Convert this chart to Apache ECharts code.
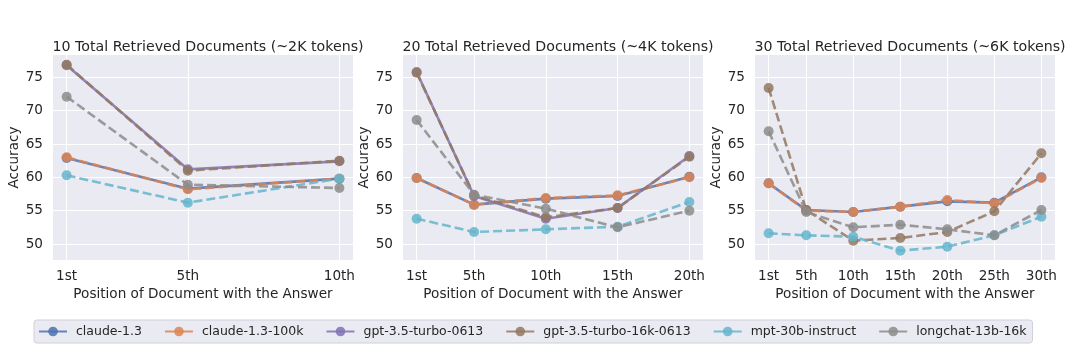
<!DOCTYPE html>
<html>
<head>
<meta charset="utf-8">
<script src="https://cdn.jsdelivr.net/npm/echarts@6/dist/echarts.min.js"></script>
<style>html,body{margin:0;padding:0;background:#fff}#c{width:1080px;height:360px}</style>
</head>
<body>
<div id="c"></div>
<script>
// ---- data ----
const modelNames = ['claude-1.3', 'claude-1.3-100k', 'gpt-3.5-turbo-0613', 'gpt-3.5-turbo-16k-0613', 'mpt-30b-instruct', 'longchat-13b-16k'];
const panelTitles = ['10 Total Retrieved Documents (~2K tokens)', '20 Total Retrieved Documents (~4K tokens)', '30 Total Retrieved Documents (~6K tokens)'];

const pos10 = [1, 5, 10];
const tickLabels10 = ['1st', '5th', '10th'];
const pos20 = [1, 5, 10, 15, 20];
const tickLabels20 = ['1st', '5th', '10th', '15th', '20th'];
const pos30 = [1, 5, 10, 15, 20, 25, 30];
const tickLabels30 = ['1st', '5th', '10th', '15th', '20th', '25th', '30th'];
const yTicks = [50, 55, 60, 65, 70, 75];

// 10 documents
const claude13_10 = [62.9, 58.3, 59.8];
const claude100k_10 = [63.0, 58.2, 59.8];
const gpt_10 = [76.8, 61.2, 62.4];
const gpt16k_10 = [76.9, 61.0, 62.5];
const mpt_10 = [60.3, 56.2, 59.8];
const longchat_10 = [72.1, 58.9, 58.4];

// 20 documents
const claude13_20 = [59.9, 55.9, 56.8, 57.2, 60.1];
const claude100k_20 = [59.9, 55.9, 56.9, 57.3, 60.0];
const gpt_20 = [75.8, 57.2, 53.8, 55.4, 63.2];
const gpt16k_20 = [75.7, 57.3, 54.0, 55.4, 63.1];
const mpt_20 = [53.8, 51.8, 52.2, 52.6, 56.3];
const longchat_20 = [68.6, 57.4, 55.3, 52.5, 55.0];

// 30 documents (no gpt-3.5-turbo-0613)
const claude13_30 = [59.1, 55.1, 54.8, 55.6, 56.4, 56.2, 60.0];
const claude100k_30 = [59.1, 55.0, 54.8, 55.6, 56.6, 56.1, 59.9];
const gpt16k_30 = [73.4, 55.1, 50.5, 50.9, 51.8, 54.9, 63.6];
const mpt_30 = [51.6, 51.3, 51.1, 49.0, 49.6, 51.3, 54.1];
const longchat_30 = [66.9, 54.8, 52.5, 52.9, 52.2, 51.3, 55.1];

// ---- styling ----
const colors = {
  'claude-1.3': '#4C72B0',
  'claude-1.3-100k': '#DD8452',
  'gpt-3.5-turbo-0613': '#8172B3',
  'gpt-3.5-turbo-16k-0613': '#937860',
  'mpt-30b-instruct': '#64B5CD',
  'longchat-13b-16k': '#8C8C8C'
};
const dashed = {
  'claude-1.3': false,
  'claude-1.3-100k': true,
  'gpt-3.5-turbo-0613': false,
  'gpt-3.5-turbo-16k-0613': true,
  'mpt-30b-instruct': true,
  'longchat-13b-16k': true
};

const panels = [
  {pos: pos10, labels: tickLabels10, series: [claude13_10, claude100k_10, gpt_10, gpt16k_10, mpt_10, longchat_10]},
  {pos: pos20, labels: tickLabels20, series: [claude13_20, claude100k_20, gpt_20, gpt16k_20, mpt_20, longchat_20]},
  {pos: pos30, labels: tickLabels30, series: [claude13_30, claude100k_30, null, gpt16k_30, mpt_30, longchat_30]}
];

const FONT = 'DejaVu Sans';
const TXT = '#262626';
const FS = 13.6;
const gridLefts = [53, 403, 755];
const gridW = 300, gridTop = 55, gridH = 205;
const yMin = 47.6, yMax = 78.35;

const grids = [], xAxes = [], yAxes = [], titles = [], series = [];
panels.forEach((p, i) => {
  grids.push({left: gridLefts[i], top: gridTop, width: gridW, height: gridH, show: true,
    backgroundColor: '#EAEAF2', borderWidth: 0, containLabel: false});
  const first = p.pos[0], last = p.pos[p.pos.length - 1];
  const margin = (last - first) * 0.05;
  const labelMap = {};
  p.pos.forEach((v, k) => { labelMap[v] = p.labels[k]; });
  xAxes.push({type: 'value', gridIndex: i, min: first - margin, max: last + margin,
    axisLine: {show: false}, axisTick: {show: false, customValues: p.pos},
    axisLabel: {customValues: p.pos, formatter: v => labelMap[v] || '', color: TXT,
      fontFamily: FONT, fontSize: FS, margin: 9},
    splitLine: {show: true, lineStyle: {color: '#ffffff', width: 1}},
    name: 'Position of Document with the Answer', nameLocation: 'middle', nameGap: 24,
    nameTextStyle: {color: TXT, fontFamily: FONT, fontSize: FS}});
  yAxes.push({type: 'value', gridIndex: i, min: yMin, max: yMax,
    axisLine: {show: false}, axisTick: {show: false, customValues: yTicks},
    axisLabel: {customValues: yTicks, color: TXT, fontFamily: FONT, fontSize: FS, margin: 10},
    splitLine: {show: true, lineStyle: {color: '#ffffff', width: 1}},
    name: 'Accuracy', nameLocation: 'middle', nameGap: 28,
    nameTextStyle: {color: TXT, fontFamily: FONT, fontSize: FS}});
  titles.push({text: panelTitles[i], left: gridLefts[i] + gridW / 2, top: 35, textAlign: 'center',
    textStyle: {color: TXT, fontFamily: FONT, fontSize: 14.2, fontWeight: 'normal'}});
  p.series.forEach((vals, s) => {
    if (!vals) return;
    const name = modelNames[s];
    series.push({
      type: 'line', name: name, xAxisIndex: i, yAxisIndex: i,
      data: p.pos.map((x, k) => [x, vals[k]]),
      symbol: 'circle', symbolSize: 10,
      itemStyle: {color: colors[name], opacity: 0.85},
      lineStyle: {color: colors[name], width: 2.6, opacity: 0.85,
        type: dashed[name] ? [9, 4] : 'solid'},
      emphasis: {disabled: true},
      animation: false, z: 2 + s
    });
  });
});

const chart = echarts.init(document.getElementById('c'), null, {renderer: 'canvas'});
chart.setOption({
  animation: false,
  title: titles,
  grid: grids,
  xAxis: xAxes,
  yAxis: yAxes,
  legend: {
    data: modelNames, left: 34, top: 320,
    itemWidth: 28, itemHeight: 12, itemGap: 22,
    padding: [5, 6, 5, 4],
    backgroundColor: '#EAEAF2', borderColor: '#D0D0D8', borderWidth: 1, borderRadius: 3,
    lineStyle: {type: 'solid'},
    textStyle: {color: TXT, fontFamily: FONT, fontSize: 12.5, padding: [0, 0, 0, 4]}
  },
  series: series
});
</script>
</body>
</html>
